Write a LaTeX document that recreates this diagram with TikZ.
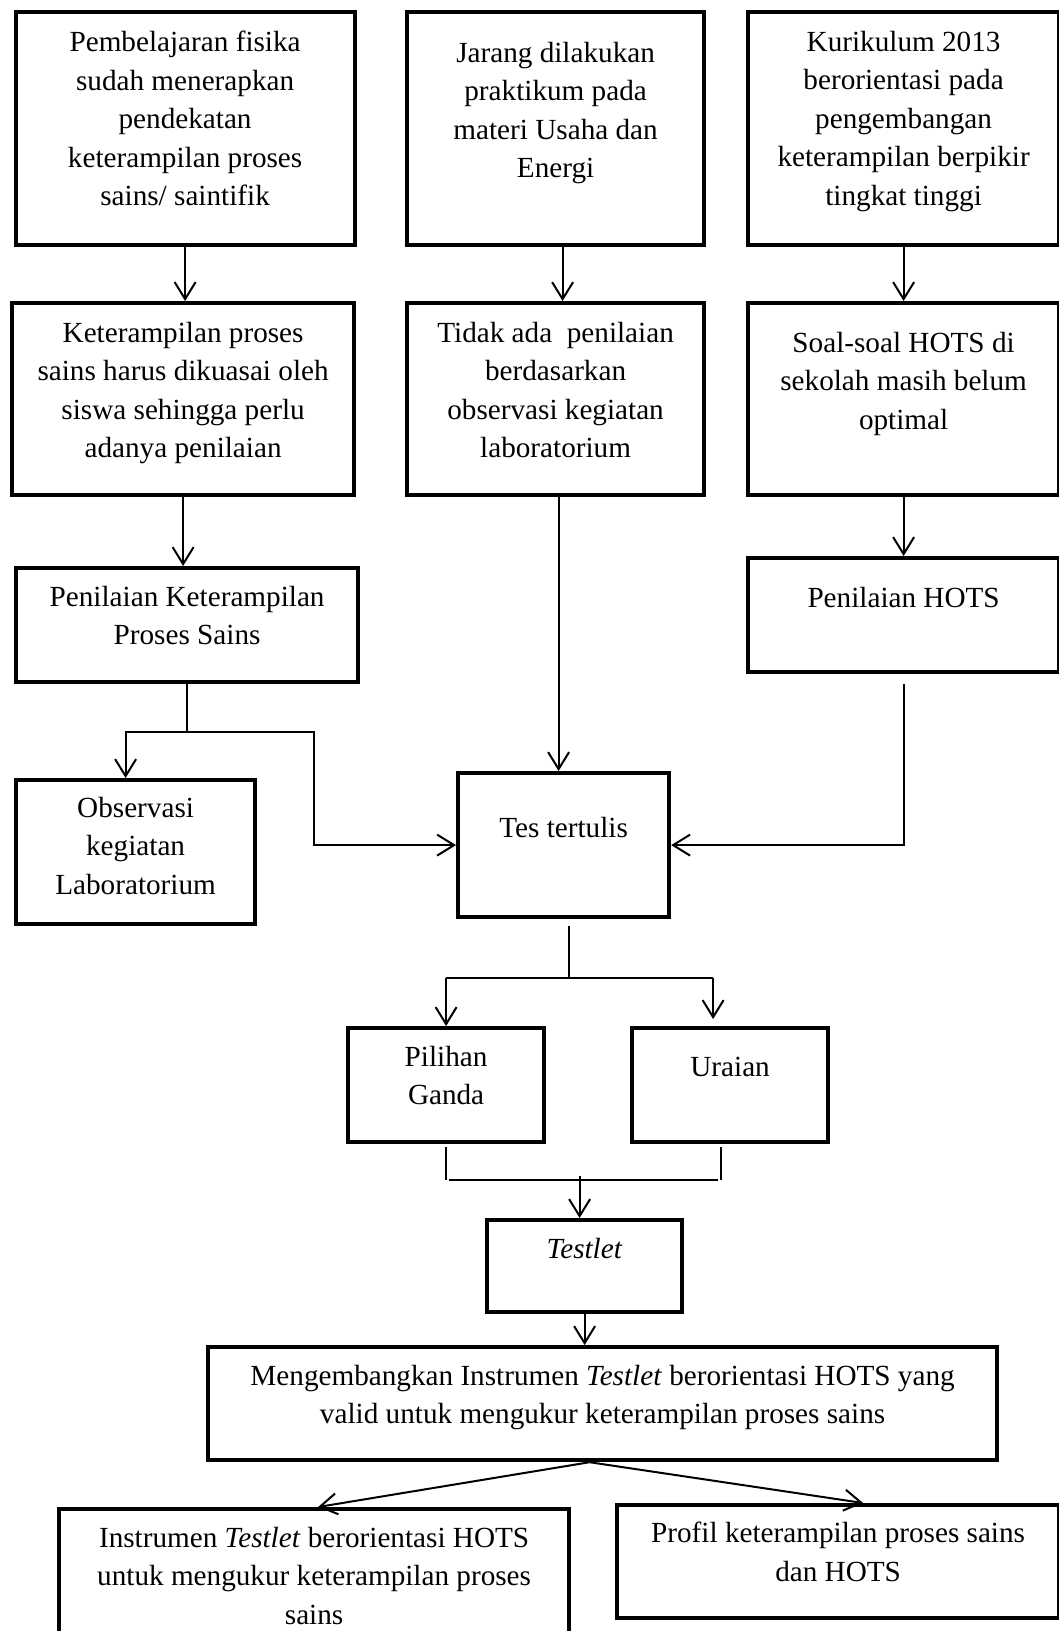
\documentclass[tikz,border=0pt]{standalone}
\usepackage{fontspec}
\setmainfont{Liberation Serif}
\usetikzlibrary{arrows.meta}

\begin{document}
\begin{tikzpicture}[x=1pt,y=-1pt,
    kotak/.style={draw,line width=4.2pt,anchor=north west,inner sep=0pt},
    teks/.style={anchor=north,align=center,inner sep=0pt,font=\fontsize{29.2}{38.5}\selectfont},
    garis/.style={line width=2pt},
    panah/.style={line width=2pt,-{Straight Barb[length=17pt,width=21pt]}}]

  \useasboundingbox (0,0) rectangle (1059,1631);
  \clip (0,0) rectangle (1059,1631);

  % baris atas
  \node[kotak,minimum width=339pt,minimum height=233pt,
    label={[teks,yshift=-21pt]north:Pembelajaran fisika\\sudah menerapkan\\pendekatan\\keterampilan proses\\sains/ saintifik}] (A) at (13.5,10) {};
  \node[kotak,minimum width=297pt,minimum height=233pt,
    label={[teks,yshift=-32pt]north:Jarang dilakukan\\praktikum pada\\materi Usaha dan\\Energi}] (B) at (405,10) {};
  \node[kotak,minimum width=311pt,minimum height=233pt,
    label={[teks,yshift=-21pt]north:Kurikulum 2013\\berorientasi pada\\pengembangan\\keterampilan berpikir\\tingkat tinggi}] (C) at (746,10) {};

  % baris kedua
  \node[kotak,minimum width=342pt,minimum height=192pt,
    label={[teks,yshift=-21pt]north:Keterampilan proses\\sains harus dikuasai oleh\\siswa sehingga perlu\\adanya penilaian}] (D) at (10,301) {};
  \node[kotak,minimum width=297pt,minimum height=192pt,
    label={[teks,yshift=-21pt]north:Tidak ada\ \ penilaian\\berdasarkan\\observasi kegiatan\\laboratorium}] (E) at (405,301) {};
  \node[kotak,minimum width=311pt,minimum height=192pt,
    label={[teks,yshift=-31pt]north:Soal-soal HOTS di\\sekolah masih belum\\optimal}] (F) at (746,301) {};

  % penilaian
  \node[kotak,minimum width=342pt,minimum height=114pt,
    label={[teks,yshift=-20pt]north:Penilaian Keterampilan\\Proses Sains}] (G) at (14,566) {};
  \node[kotak,minimum width=311pt,minimum height=114pt,
    label={[teks,yshift=-31pt]north:Penilaian HOTS}] (H) at (746,556) {};
  \node[kotak,minimum width=239pt,minimum height=144pt,
    label={[teks,yshift=-19pt]north:Observasi\\kegiatan\\Laboratorium}] (I) at (14,778) {};
  \node[kotak,minimum width=211pt,minimum height=144pt,
    label={[teks,yshift=-46pt]north:Tes tertulis}] (J) at (456,771) {};

  % jenis tes
  \node[kotak,minimum width=196pt,minimum height=114pt,
    label={[teks,yshift=-20pt]north:Pilihan\\Ganda}] (K) at (346,1026) {};
  \node[kotak,minimum width=196pt,minimum height=114pt,
    label={[teks,yshift=-31pt]north:Uraian}] (L) at (630,1026) {};
  \node[kotak,minimum width=195pt,minimum height=92pt,
    label={[teks,yshift=-20pt]north:\textit{Testlet}}] (M) at (485,1218) {};
  \node[kotak,minimum width=789pt,minimum height=113pt,
    label={[teks,yshift=-20pt]north:Mengembangkan Instrumen \textit{Testlet} berorientasi HOTS yang\\valid untuk mengukur keterampilan proses sains}] (N) at (206,1345) {};
  \node[kotak,minimum width=510pt,minimum height=140pt,
    label={[teks,yshift=-20pt]north:Instrumen \textit{Testlet} berorientasi HOTS\\untuk mengukur keterampilan proses\\sains}] (O) at (57,1507) {};
  \node[kotak,minimum width=442pt,minimum height=113pt,
    label={[teks,yshift=-19pt]north:Profil keterampilan proses sains\\dan HOTS}] (P) at (615,1503) {};

  % panah
  \draw[panah] (A.south) -- (A.south |- D.north);
  \draw[panah] ([xshift=7pt]B.south) -- ([xshift=7pt]B.south |- E.north);
  \draw[panah] (C.south) -- (C.south |- F.north);
  \draw[panah] (D.south) -- (D.south |- G.north);
  \draw[panah] (F.south) -- (F.south |- H.north);

  \draw[garis] (G.south) -- ++(0,48) coordinate (g1);
  \draw[panah] (g1) -| ([xshift=-10pt]I.north);
  \draw[panah] (g1) -- ++(127,0) |- (J.west);
  \draw[panah] ([xshift=3pt]E.south) -- ([xshift=3pt]E.south |- J.north);
  \draw[panah] ([yshift=-10pt]H.south) |- (J.east);

  \draw[garis] ([xshift=5pt,yshift=-7pt]J.south) -- ++(0,52) coordinate (j1);
  \draw[garis] (K.north |- j1) -- ([xshift=-17pt]L.north |- j1);
  \draw[panah] (K.north |- j1) -- (K.north);
  \draw[panah] ([xshift=-17pt]L.north |- j1) -- ([xshift=-17pt,yshift=7pt]L.north);

  \draw[garis] ([yshift=-3pt]K.south) -- ++(0,33);
  \draw[garis] ([xshift=-9pt,yshift=-3pt]L.south) -- ++(0,33);
  \draw[garis] ([xshift=3pt,yshift=-36pt]K.south) -- ([xshift=-12pt,yshift=-36pt]L.south);
  \draw[panah] ([xshift=-5pt,yshift=42pt]M.north) -- ([xshift=-5pt]M.north);
  \draw[panah] (M.south) -- (M.south |- N.north);

  \draw[panah] ([xshift=-13pt]N.south) -- ([xshift=4pt]O.north);
  \draw[panah] ([xshift=-13pt]N.south) -- ([xshift=25pt]P.north);

\end{tikzpicture}
\end{document}
